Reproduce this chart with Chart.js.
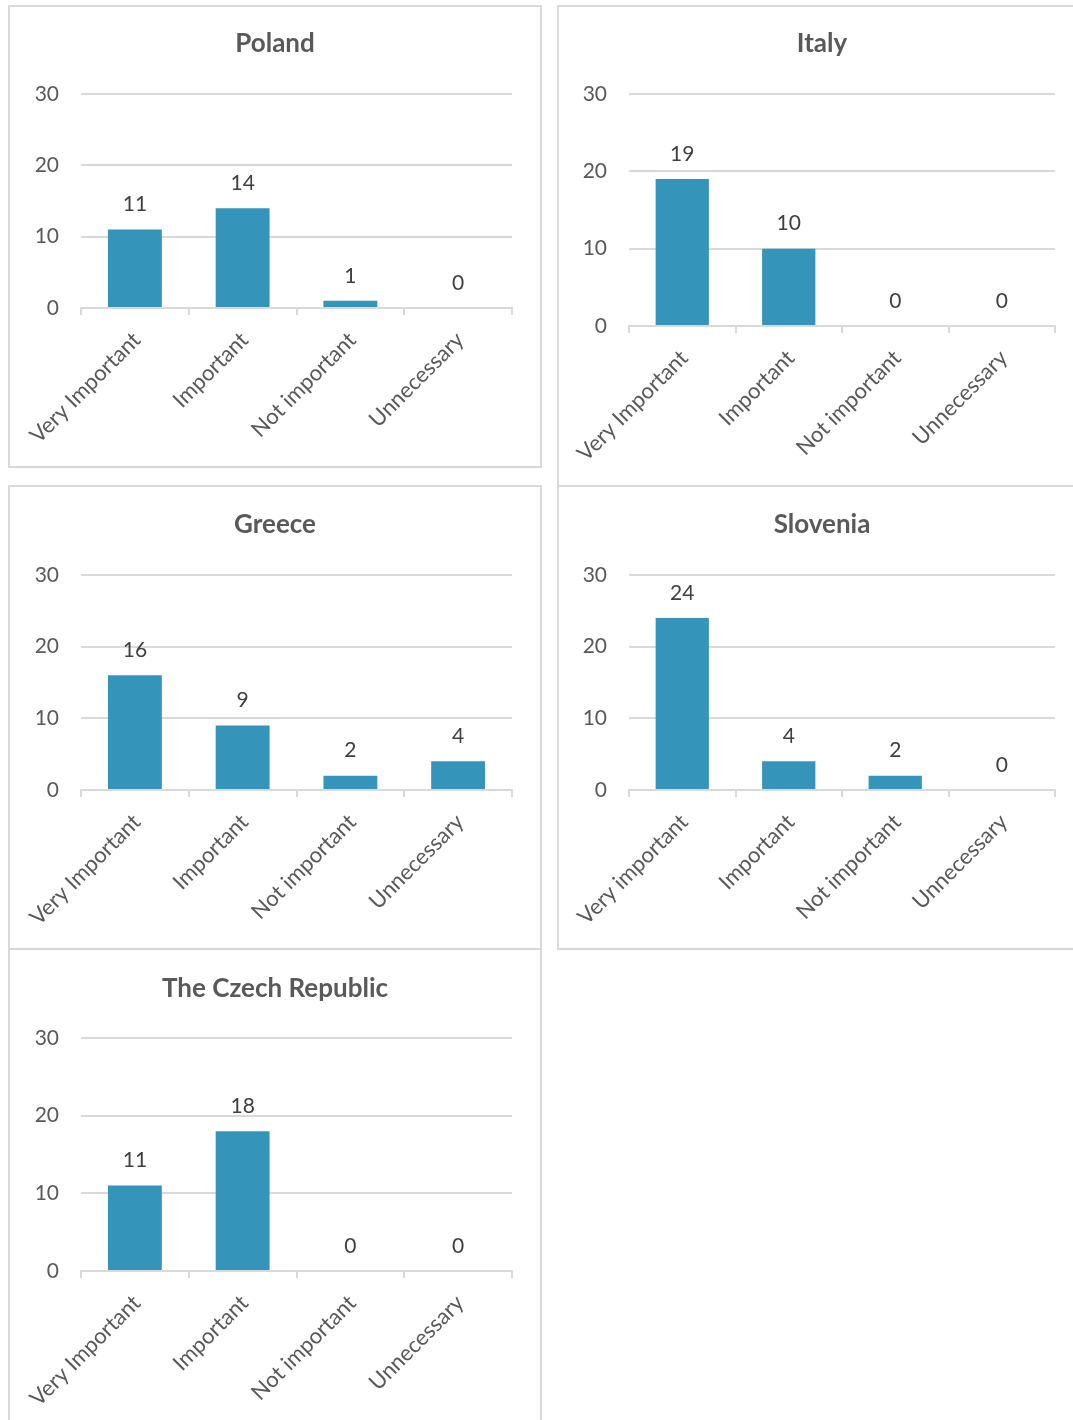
<!DOCTYPE html>
<html>
<head>
<meta charset="utf-8">
<script src="https://cdn.jsdelivr.net/npm/chart.js@4.4.1/dist/chart.umd.min.js"></script>
<style>
  html, body { margin: 0; padding: 0; background: #fff; overflow: hidden; }
  canvas { position: absolute; }
</style>
</head>
<body>
<canvas id="poland"></canvas>
<canvas id="italy"></canvas>
<canvas id="greece"></canvas>
<canvas id="slovenia"></canvas>
<canvas id="czech"></canvas>
<script>
// Categorias e valores
const categorias = ['Very Important', 'Important', 'Not important', 'Unnecessary'];
const categoriasSlovenia = ['Very important', 'Important', 'Not important', 'Unnecessary'];
const ticksY = [0, 10, 20, 30];

const poland = [11, 14, 1, 0];
const italy = [19, 10, 0, 0];
const greece = [16, 9, 2, 4];
const slovenia = [24, 4, 2, 0];
const czech = [11, 18, 0, 0];

// Cores e fontes
const corBarra = '#3494ba';
const corTexto = '#595959';
const corGrade = '#d9d9d9';
const fonte = 'Lato, "Open Sans", sans-serif';

// Posição de cada painel na página (caixa e área do gráfico)
const paineis = [
  { id: 'poland', titulo: 'Poland', labels: categorias, valores: poland,
    caixa: { x: 8, y: 5, w: 534, h: 463 }, area: { left: 81, right: 512, top: 94, bottom: 308 }, tituloY: 44 },
  { id: 'italy', titulo: 'Italy', labels: categorias, valores: italy,
    caixa: { x: 557, y: 5, w: 530, h: 482 }, area: { left: 629, right: 1055, top: 94, bottom: 326 }, tituloY: 44 },
  { id: 'greece', titulo: 'Greece', labels: categorias, valores: greece,
    caixa: { x: 8, y: 485, w: 534, h: 465 }, area: { left: 81, right: 512, top: 575, bottom: 790 }, tituloY: 525 },
  { id: 'slovenia', titulo: 'Slovenia', labels: categoriasSlovenia, valores: slovenia,
    caixa: { x: 557, y: 485, w: 530, h: 465 }, area: { left: 629, right: 1055, top: 575, bottom: 790 }, tituloY: 525 },
  { id: 'czech', titulo: 'The Czech Republic', labels: categorias, valores: czech,
    caixa: { x: 8, y: 948, w: 534, h: 490 }, area: { left: 81, right: 512, top: 1038, bottom: 1271 }, tituloY: 989 }
];

// Plugin: fundo branco, moldura e título centrado na caixa
const moldura = {
  id: 'moldura',
  beforeDraw(chart, args, opts) {
    const { ctx, width, height } = chart;
    ctx.save();
    ctx.fillStyle = '#fff';
    ctx.fillRect(0, 0, width, height);
    ctx.strokeStyle = corGrade;
    ctx.lineWidth = 2;
    ctx.strokeRect(1, 1, width - 2, height - 2);
    ctx.font = 'bold 26px ' + fonte;
    ctx.fillStyle = corTexto;
    ctx.textAlign = 'center';
    ctx.textBaseline = 'middle';
    ctx.fillText(opts.texto, width / 2, opts.y);
    ctx.restore();
  }
};

// Plugin: rótulos de valor acima das barras
const rotulos = {
  id: 'rotulos',
  afterDatasetsDraw(chart) {
    const { ctx } = chart;
    const meta = chart.getDatasetMeta(0);
    const dados = chart.data.datasets[0].data;
    ctx.save();
    ctx.font = '21px ' + fonte;
    ctx.fillStyle = '#404040';
    ctx.textAlign = 'center';
    ctx.textBaseline = 'middle';
    meta.data.forEach((barra, i) => {
      ctx.fillText(String(dados[i]), barra.x, barra.y - 25);
    });
    ctx.restore();
  }
};

function criarPainel(p) {
  const el = document.getElementById(p.id);
  const c = p.caixa, a = p.area;
  el.width = c.w;
  el.height = c.h;
  el.style.left = c.x + 'px';
  el.style.top = c.y + 'px';
  el.style.width = c.w + 'px';
  el.style.height = c.h + 'px';

  new Chart(el, {
    type: 'bar',
    data: {
      labels: p.labels,
      datasets: [{
        data: p.valores,
        backgroundColor: corBarra,
        borderWidth: 0,
        categoryPercentage: 1,
        barPercentage: 0.5
      }]
    },
    options: {
      responsive: false,
      animation: false,
      layout: { padding: { left: 0, top: a.top - c.y, bottom: 0, right: c.x + c.w - a.right } },
      plugins: {
        legend: { display: false },
        tooltip: { enabled: false },
        title: { display: false },
        moldura: { texto: p.titulo, y: p.tituloY - c.y }
      },
      scales: {
        x: {
          grid: { offset: true, drawOnChartArea: false, drawTicks: true, tickLength: 7, color: corGrade, lineWidth: 2 },
          border: { display: true, color: corGrade, width: 2 },
          ticks: {
            color: corTexto,
            font: { family: fonte, size: 22 },
            minRotation: 45,
            maxRotation: 45,
            padding: 12,
            labelOffset: 2,
            autoSkip: false
          },
          afterFit(scale) { scale.height = c.y + c.h - a.bottom; }
        },
        y: {
          min: 0,
          max: ticksY[ticksY.length - 1],
          grid: { drawTicks: false, color: corGrade, lineWidth: 2 },
          border: { display: false },
          ticks: {
            stepSize: ticksY[1] - ticksY[0],
            color: corTexto,
            font: { family: fonte, size: 21 },
            padding: 22
          },
          afterFit(scale) { scale.width = a.left - c.x; }
        }
      }
    },
    plugins: [moldura, rotulos]
  });
}

paineis.forEach(criarPainel);
</script>
</body>
</html>
